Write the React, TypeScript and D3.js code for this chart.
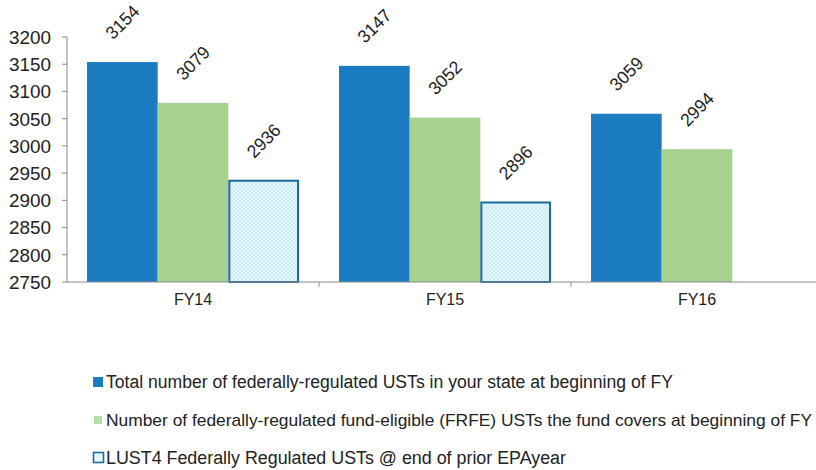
import React from 'react';
import * as d3 from 'd3';

const categories = ['FY14', 'FY15', 'FY16'];
const seriesNames = [
  'Total number of federally-regulated USTs in your state at beginning of FY',
  'Number of federally-regulated fund-eligible (FRFE) USTs the fund covers at beginning of FY',
  'LUST4 Federally Regulated USTs @ end of prior EPAyear',
];
const totalUsts = [3154, 3147, 3059];
const frfeUsts = [3079, 3052, 2994];
const lust4Usts = [2936, 2896, null];
const yTicks = [2750, 2800, 2850, 2900, 2950, 3000, 3050, 3100, 3150, 3200];

const W = 816;
const H = 470;
const font = '"Liberation Sans", Arial, sans-serif';
const colors = ['#1c7cc2', '#a6d18f', 'url(#hatch)'];

const App = () => {
  const y = d3.scaleLinear().domain([2750, 3200]).range([282, 37]);
  const x = d3.scaleBand().domain(categories).range([67, 823]);
  const inner = d3.scaleBand().domain(['0', '1', '2']).range([20, x.bandwidth() - 20]);

  const series = [totalUsts, frfeUsts, lust4Usts];
  const legendY = [382, 420, 458];
  // second line runs to the right edge in the original, squeezed a bit so it stays visible
  const legendLen = [567, 706, 460];

  return (
    <svg width={W} height={H} style={{ position: 'absolute', left: 0, top: 0 }}>
      <defs>
        <pattern id="hatch" width="4" height="4" patternUnits="userSpaceOnUse">
          <rect width="4" height="4" fill="#e4f6fb" />
          <rect width="2" height="2" fill="#cdebf5" />
          <rect x="2" y="2" width="2" height="2" fill="#cdebf5" />
        </pattern>
      </defs>
      <rect width={W} height={H} fill="#fff" />

      {/* y axis */}
      <line x1={67} x2={67} y1={y(3200)} y2={y(2750)} stroke="#8a8a8a" strokeWidth={1} />
      {yTicks.map((t) => (
        <g key={t}>
          <line x1={62} x2={67} y1={y(t)} y2={y(t)} stroke="#8a8a8a" />
          <text x={51} y={y(t)} dy="0.36em" textAnchor="end" fontFamily={font} fontSize={19}
            textLength={42} lengthAdjust="spacingAndGlyphs" fill="#222">
            {t}
          </text>
        </g>
      ))}

      {/* bars */}
      {categories.map((c, i) => (
        <g key={c} transform={`translate(${x(c)},0)`}>
          {series.map((s, j) => {
            const v = s[i];
            if (v == null) return null;
            const bx = inner(String(j))!;
            const bw = inner.bandwidth();
            const isLust = j === 2;
            return (
              <g key={j}>
                <rect
                  x={isLust ? bx + 1 : bx}
                  y={y(v)}
                  width={isLust ? bw - 2 : bw}
                  height={y(2750) - y(v)}
                  fill={colors[j]}
                  stroke={isLust ? '#1b6b9f' : 'none'}
                  strokeWidth={isLust ? 2 : 0}
                />
                <text
                  transform={`translate(${bx + bw / 2},${y(v) - 40}) rotate(-45)`}
                  textAnchor="middle"
                  dy="0.35em"
                  fontFamily={font}
                  fontSize={18}
                  textLength={39}
                  lengthAdjust="spacingAndGlyphs"
                  fill="#222"
                >
                  {v}
                </text>
              </g>
            );
          })}
          <text x={x.bandwidth() / 2} y={299} dy="0.35em" textAnchor="middle" fontFamily={font} fontSize={16} fill="#222">
            {c}
          </text>
        </g>
      ))}

      {/* x axis */}
      <line x1={67} x2={W} y1={282} y2={282} stroke="#8a8a8a" />
      {categories.slice(1).map((c) => (
        <line key={c} x1={x(c)} x2={x(c)} y1={282} y2={287} stroke="#8a8a8a" />
      ))}

      {/* legend */}
      <rect x={93} y={legendY[0] - 5} width={10} height={10} fill={colors[0]} />
      <rect x={94} y={legendY[1] - 4} width={8} height={8} fill="#b8dca8" />
      <rect x={93.5} y={legendY[2] - 5.5} width={10} height={10} fill="#e4f6fb" stroke="#1b6b9f" strokeWidth={1.6} />
      {seriesNames.map((n, i) => (
        <text
          key={n}
          x={106}
          y={legendY[i]}
          dy="0.35em"
          fontFamily={font}
          fontSize={i === 1 ? 17 : 18}
          fill="#222"
          textLength={legendLen[i]}
          lengthAdjust="spacingAndGlyphs"
        >
          {n}
        </text>
      ))}
    </svg>
  );
};

export default App;
